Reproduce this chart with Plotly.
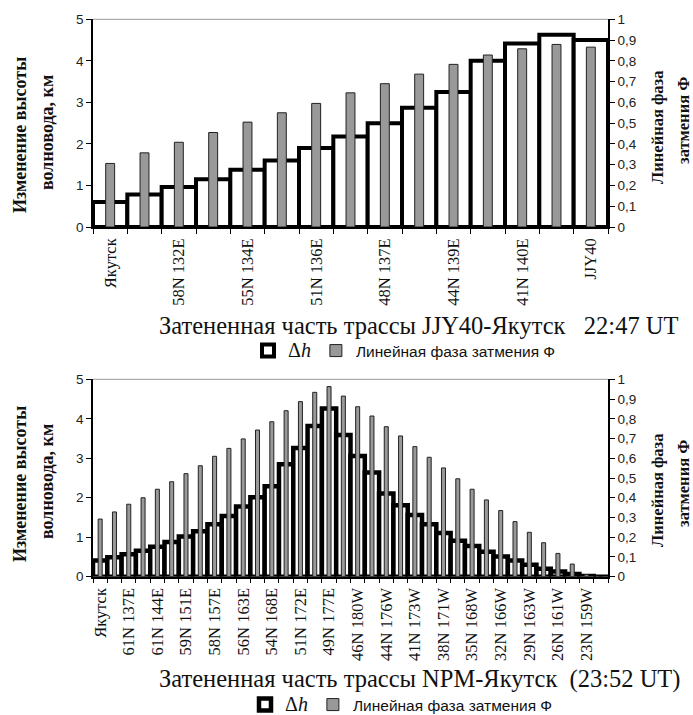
import plotly.graph_objects as go

# ---------------- data: top chart (JJY40 - Якутск) ----------------
top_labels = ["Якутск", "58N 132E", "55N 134E", "51N 136E", "48N 137E",
              "44N 139E", "41N 140E", "JJY40"]
top_dh = [0.6, 0.78, 0.96, 1.15, 1.38, 1.6, 1.9, 2.18, 2.5, 2.87,
          3.25, 4.0, 4.42, 4.63, 4.5]
top_phase = [0.306, 0.357, 0.408, 0.455, 0.505, 0.55, 0.595, 0.646, 0.69,
             0.736, 0.783, 0.828, 0.858, 0.879, 0.866]

# ---------------- data: bottom chart (NPM - Якутск) ----------------
bot_labels = ["Якутск", "61N 137E", "61N 144E", "59N 151E", "58N 157E",
              "56N 163E", "54N 168E", "51N 172E", "49N 177E", "46N 180W",
              "44N 176W", "41N 173W", "38N 171W", "35N 168W", "32N 166W",
              "29N 163W", "26N 161W", "23N 159W"]
bot_dh = [0.41, 0.49, 0.57, 0.66, 0.76, 0.88, 1.02, 1.15, 1.33, 1.54,
          1.78, 2.01, 2.29, 2.85, 3.26, 3.82, 4.26, 3.59, 3.06, 2.64,
          2.11, 1.81, 1.56, 1.33, 1.11, 0.91, 0.78, 0.63, 0.51, 0.41,
          0.30, 0.20, 0.13, 0.07, 0.02, 0.0]
bot_phase = [0.292, 0.328, 0.367, 0.40, 0.443, 0.481, 0.522, 0.562, 0.61,
             0.65, 0.698, 0.743, 0.785, 0.841, 0.887, 0.934, 0.963, 0.915,
             0.861, 0.814, 0.76, 0.713, 0.659, 0.605, 0.551, 0.496, 0.443,
             0.389, 0.335, 0.279, 0.225, 0.172, 0.118, 0.064, 0.01, 0.0]

left_title = ["Изменение высоты", "волновода, км"]
right_title = ["Линейная фаза", "затмения Ф"]
top_xtitle = "Затененная часть трассы JJY40-Якутск   22:47 UT"
bot_xtitle = "Затененная часть трассы NPM-Якутск  (23:52 UT)"
dh_name = '<span style="font-family:Liberation Serif;font-size:20px">Δ<i>h</i></span>'
phase_name = "Линейная фаза затмения Ф"

top_x = list(range(1, len(top_dh) + 1))
bot_x = list(range(1, len(bot_dh) + 1))

W, H = 693, 715
SERIF = "Liberation Serif"
SANS = "Liberation Sans"


def px(v):
    return v / W


def py(v):
    return 1 - v / H


fig = go.Figure()

fig.add_trace(go.Bar(x=top_x, y=top_dh, width=1, name=dh_name,
                     marker=dict(color="white", line=dict(color="black", width=4)),
                     xaxis="x", yaxis="y", legend="legend"))
fig.add_trace(go.Bar(x=top_x, y=top_phase, width=0.26, name=phase_name,
                     marker=dict(color="#999999", line=dict(color="#222222", width=1)),
                     xaxis="x", yaxis="y2", legend="legend"))
fig.add_trace(go.Bar(x=bot_x, y=bot_dh, width=1, name=dh_name,
                     marker=dict(color="white", line=dict(color="black", width=4.5)),
                     xaxis="x3", yaxis="y3", legend="legend2"))
fig.add_trace(go.Bar(x=bot_x, y=bot_phase, width=0.28, name=phase_name,
                     marker=dict(color="#999999", line=dict(color="#222222", width=1)),
                     xaxis="x3", yaxis="y4", legend="legend2"))

xdom = [px(93), px(608)]
top_dom = [py(227), py(19.3)]
bot_dom = [py(576.7), py(379.3)]

tickfont_y = dict(family=SANS, size=13.5, color="#222222")
tickfont_x = dict(family=SERIF, size=16.5, color="#111111")


def xaxis(n, dom_anchor, labels):
    return dict(domain=xdom, anchor=dom_anchor, range=[0.5, n + 0.5],
                tickmode="array", tickvals=list(range(1, n + 1, 2)), ticktext=labels,
                tickangle=-90, tickfont=tickfont_x,
                ticks="outside", ticklen=3, tickcolor="rgba(0,0,0,0)",
                minor=dict(tickmode="linear", tick0=0.5, dtick=1, ticks="outside",
                           ticklen=5, tickcolor="black", tickwidth=1),
                showline=True, linecolor="black", linewidth=1.5,
                showgrid=False, zeroline=False, automargin=False)


def yleft(dom, anchor):
    return dict(domain=dom, anchor=anchor, range=[0, 5], dtick=1, tick0=0,
                ticks="outside", ticklen=5, tickcolor="black",
                showline=True, linecolor="black", linewidth=1.5,
                tickfont=tickfont_y, showgrid=False, zeroline=False, automargin=False)


def yright(over, anchor):
    return dict(overlaying=over, anchor=anchor, side="right", range=[0, 1],
                dtick=0.1, tick0=0, tickformat=".1~f",
                ticks="outside", ticklen=5, tickcolor="black",
                showline=True, linecolor="black", linewidth=1.5,
                tickfont=tickfont_y, showgrid=False, zeroline=False, automargin=False)


legend_font = dict(family=SANS, size=15.5, color="#111111")
fig.update_layout(
    width=W, height=H, margin=dict(l=0, r=0, t=0, b=0, autoexpand=False),
    paper_bgcolor="white", plot_bgcolor="white",
    barmode="overlay", separators=", ",
    xaxis=xaxis(len(top_x), "y", top_labels),
    yaxis=yleft(top_dom, "x"),
    yaxis2=yright("y", "x"),
    xaxis3=xaxis(len(bot_x), "y3", bot_labels),
    yaxis3=yleft(bot_dom, "x3"),
    yaxis4=yright("y3", "x3"),
    legend=dict(orientation="h", x=px(248), y=py(351), xanchor="left", yanchor="middle",
                font=legend_font, bgcolor="rgba(0,0,0,0)", itemwidth=30),
    legend2=dict(orientation="h", x=px(245), y=py(705), xanchor="left", yanchor="middle",
                 font=legend_font, bgcolor="rgba(0,0,0,0)", itemwidth=30),
    showlegend=True,
)

# thin grey border line at top of plot areas
for yref, xr in [("y domain", "x domain"), ("y3 domain", "x3 domain")]:
    fig.add_shape(type="line", xref=xr, yref=yref, x0=0, x1=1, y0=1, y1=1,
                  line=dict(color="#999999", width=1))

ann = []
title_font = dict(family=SERIF, size=24.5, color="#111111")
ann.append(dict(text=top_xtitle, x=px(157), y=py(325), xanchor="left", yanchor="middle",
                font=title_font))
ann.append(dict(text=bot_xtitle, x=px(157), y=py(679), xanchor="left", yanchor="middle",
                font=title_font))

axis_title_font = dict(family=SERIF, size=18, color="#111111")
right_title_font = dict(family=SERIF, size=16.5, color="#111111")
for (cy, cx1, cx2) in [(135, 20, 47), (484, 20, 47)]:
    ann.append(dict(text="<b>" + left_title[0] + "</b>", x=px(cx1), y=py(cy), textangle=-90,
                    xanchor="center", yanchor="middle", font=axis_title_font))
    ann.append(dict(text="<b>" + left_title[1] + "</b>", x=px(cx2), y=py(cy - 2), textangle=-90,
                    xanchor="center", yanchor="middle", font=axis_title_font))
for (cy, cx1, cx2) in [(127, 657, 683), (490, 657, 683)]:
    ann.append(dict(text="<b>" + right_title[0] + "</b>", x=px(cx1), y=py(cy), textangle=-90,
                    xanchor="center", yanchor="middle", font=right_title_font))
    ann.append(dict(text="<b>" + right_title[1] + "</b>", x=px(cx2), y=py(cy - 6), textangle=-90,
                    xanchor="center", yanchor="middle", font=right_title_font))

for a in ann:
    a.update(xref="paper", yref="paper", showarrow=False)
fig.update_layout(annotations=ann)

fig.write_html("out.html", config={"displayModeBar": False},
               post_script="document.body.style.margin='0';document.body.style.overflow='hidden';")
